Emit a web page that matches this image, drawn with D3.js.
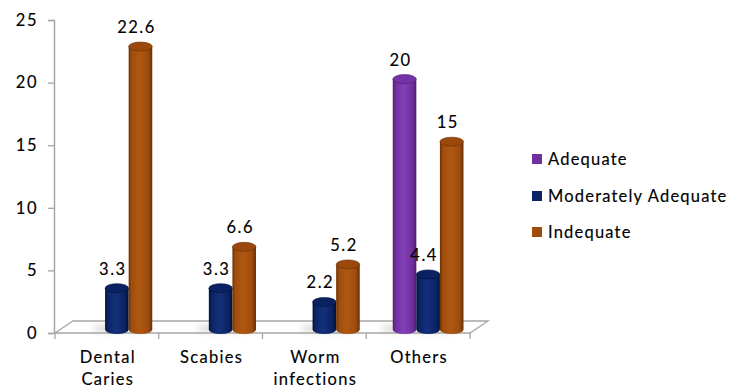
<!DOCTYPE html>
<html>
<head>
<meta charset="utf-8">
<script src="https://cdn.jsdelivr.net/npm/d3@7"></script>
<style>
  html, body { margin: 0; padding: 0; background: #fff; }
  svg { display: block; }
  text { font-family: Lato, "Noto Sans", sans-serif; fill: #000; stroke: #000; stroke-width: 0.15px; }
</style>
</head>
<body>
<svg id="chart" width="737" height="389"></svg>
<script>
// Categories, series and values
const categories = ["Dental Caries", "Scabies", "Worm infections", "Others"];
const categoryLines = [["Dental", "Caries"], ["Scabies"], ["Worm", "infections"], ["Others"]];
const seriesNames = ["Adequate", "Moderately Adequate", "Indequate"];
const adequate = [null, null, null, 20];
const moderatelyAdequate = [3.3, 3.3, 2.2, 4.4];
const indequate = [22.6, 6.6, 5.2, 15];
const yTicks = [0, 5, 10, 15, 20, 25];

const seriesValues = [adequate, moderatelyAdequate, indequate];
const palette = {
  "Adequate":            { base: "#7030A0", light: "#8340B8", dark: "#4E1F72", top: "#7433A6" },
  "Moderately Adequate": { base: "#0B2466", light: "#14307A", dark: "#001238", top: "#0A2262" },
  "Indequate":           { base: "#A04C0C", light: "#AE5812", dark: "#6A3106", top: "#9A480B" }
};

const svg = d3.select("#chart");
const defs = svg.append("defs");

// Cylinder shading gradients
seriesNames.forEach((s, i) => {
  const c = palette[s];
  const g = defs.append("linearGradient").attr("id", "cyl" + i)
    .attr("x1", "0%").attr("x2", "100%").attr("y1", "0%").attr("y2", "0%");
  g.append("stop").attr("offset", "0%").attr("stop-color", c.dark);
  g.append("stop").attr("offset", "12%").attr("stop-color", c.base);
  g.append("stop").attr("offset", "45%").attr("stop-color", c.light);
  g.append("stop").attr("offset", "82%").attr("stop-color", c.base);
  g.append("stop").attr("offset", "100%").attr("stop-color", c.dark);
});
defs.append("filter").attr("id", "soft")
  .attr("x", "-50%").attr("y", "-200%").attr("width", "200%").attr("height", "500%")
  .append("feGaussianBlur").attr("stdDeviation", 3);

// Scales
const y = d3.scaleLinear().domain([0, 25]).range([333, 20]);
const x0 = d3.scaleBand().domain(categories).range([55, 470]);
const x1 = d3.scaleBand().domain(seriesNames).range([0, x0.bandwidth()])
  .paddingInner(0).paddingOuter(0.7);
const depth = { dx: 18, dy: -12 };        // floor depth offset
const mid = { dx: 10, dy: -3.5 };          // bars stand at mid depth
const axisColor = "#a6a6a6";

// Floor
const floorPts = [[x0.range()[0], y(0)], [x0.range()[0] + depth.dx, y(0) + depth.dy],
                  [x0.range()[1] + depth.dx, y(0) + depth.dy], [x0.range()[1], y(0)]];
svg.append("path")
  .attr("d", d3.line()(floorPts) + "Z")
  .attr("fill", "#fff").attr("stroke", axisColor).attr("stroke-width", 1.3);

// Value axis
const yAxis = d3.axisLeft(y).tickValues(yTicks).tickSize(6).tickPadding(10);
const gy = svg.append("g").attr("transform", `translate(${x0.range()[0] - 1},0)`).call(yAxis);
gy.select(".domain").attr("stroke", axisColor).attr("stroke-width", 1.5);
gy.selectAll(".tick line").attr("stroke", axisColor).attr("stroke-width", 1.3);
gy.selectAll(".tick text").style("font-size", "16.5px").style("letter-spacing", "1.5px")
  .style("font-family", "Lato, sans-serif").attr("fill", "#000");

// Category ticks under the front floor edge
const catTicks = categories.map(c => x0(c)).concat([x0.range()[1]]);
svg.append("g").selectAll("line").data(catTicks).join("line")
  .attr("x1", d => d).attr("x2", d => d)
  .attr("y1", y(0)).attr("y2", y(0) + 6)
  .attr("stroke", axisColor).attr("stroke-width", 1.3);

// Category labels
const catG = svg.append("g");
categories.forEach((c, i) => {
  const cx = x0(c) + x0.bandwidth() / 2 + 1;
  const t = catG.append("text")
    .attr("x", cx)
    .attr("y", 363)
    .attr("text-anchor", "middle")
    .style("font-size", "16.5px").style("letter-spacing", "1.3px");
  categoryLines[i].forEach((ln, j) => {
    t.append("tspan").attr("x", cx).attr("dy", j === 0 ? 0 : 22).text(ln);
  });
});

// Bars as cylinders
const bars = [];
categories.forEach((c, ci) => {
  seriesNames.forEach((s, si) => {
    const v = seriesValues[si][ci];
    if (v == null) return;
    bars.push({ c, s, si, v });
  });
});

const rx = x1.bandwidth() / 2;
const ry = 4.5;
const barG = svg.append("g");

// soft floor shadows
barG.selectAll("ellipse.shadow").data(bars).join("ellipse")
  .attr("class", "shadow")
  .attr("cx", d => x0(d.c) + x1(d.s) + mid.dx + rx - 8)
  .attr("cy", y(0) + mid.dy - 1)
  .attr("rx", rx + 4).attr("ry", 3.5)
  .attr("fill", "#a0a0a0").attr("opacity", 0.4)
  .attr("filter", "url(#soft)");

const cyl = barG.selectAll("g.bar").data(bars).join("g").attr("class", "bar");
cyl.append("path")
  .attr("d", d => {
    const xl = x0(d.c) + x1(d.s) + mid.dx;
    const xr = xl + 2 * rx;
    const yt = y(d.v) + mid.dy;
    const yb = y(0) + mid.dy;
    return `M${xl},${yt} L${xl},${yb} A${rx},${ry} 0 0 0 ${xr},${yb} L${xr},${yt} Z`;
  })
  .attr("fill", d => `url(#cyl${d.si})`);
cyl.append("ellipse")
  .attr("cx", d => x0(d.c) + x1(d.s) + mid.dx + rx)
  .attr("cy", d => y(d.v) + mid.dy)
  .attr("rx", rx).attr("ry", ry)
  .attr("fill", d => palette[d.s].top)
  .attr("stroke", d => palette[d.s].dark).attr("stroke-width", 0.6);

// Value labels
barG.selectAll("text.val").data(bars).join("text")
  .attr("class", "val")
  .attr("x", d => x0(d.c) + x1(d.s) + mid.dx + rx - 4)
  .attr("y", d => y(d.v) + mid.dy - 13.5)
  .attr("text-anchor", "middle")
  .style("font-size", "16.5px").style("letter-spacing", "1.5px")
  .text(d => d.v);

// Legend
const legend = svg.append("g").attr("transform", "translate(532,0)");
const legendY = [159, 196, 232];
seriesNames.forEach((s, i) => {
  legend.append("rect").attr("x", 0).attr("y", legendY[i] - 5)
    .attr("width", 10).attr("height", 10).attr("fill", palette[s].base);
  legend.append("text").attr("x", 16).attr("y", legendY[i] + 5.5)
    .style("font-size", "16.5px").style("letter-spacing", "1.2px")
    .text(s);
});
</script>
</body>
</html>
